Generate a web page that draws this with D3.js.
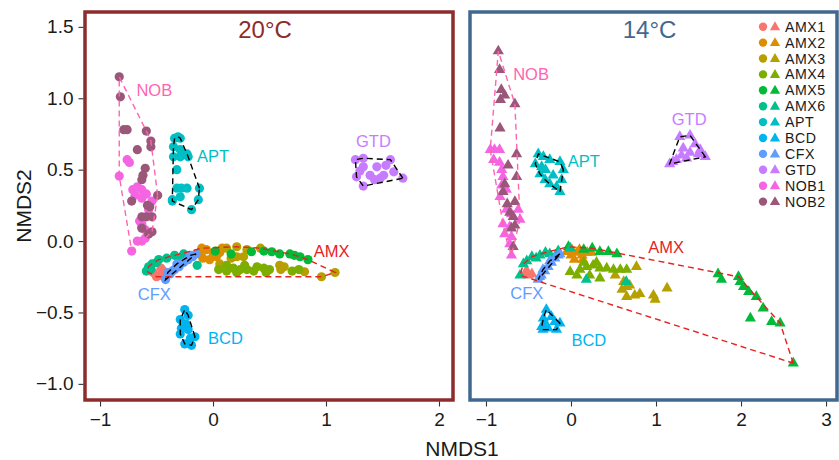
<!DOCTYPE html>
<html>
<head>
<meta charset="utf-8">
<script src="https://cdn.jsdelivr.net/npm/d3@7"></script>
<style>
  html, body { margin: 0; padding: 0; background: #fff; }
  svg { display: block; font-family: "Liberation Sans", Arial, sans-serif; }
</style>
</head>
<body>
<svg id="chart" width="839" height="460"></svg>
<script>
// ---------------- DATA ----------------
const groups = ["AMX1","AMX2","AMX3","AMX4","AMX5","AMX6","APT","BCD","CFX","GTD","NOB1","NOB2"];
const colors = ["#F8766D","#DE8C00","#B79F00","#7CAE00","#00BA38","#00C08B","#00BFC4","#00B4F0","#619CFF","#C77CFF","#F564E3","#9B5779"];
const panelTitles = ["20°C", "14°C"];
const xTicks20 = [-1, 0, 1, 2];
const xTicks14 = [-1, 0, 1, 2, 3];
const yTicks = [-1.0, -0.5, 0.0, 0.5, 1.0, 1.5];

// 20°C panel (circles)
const AMX1_20 = [[-0.53,-0.22],[-0.47,-0.24],[-0.44,-0.21],[-0.41,-0.22],[-0.50,-0.25],[-0.46,-0.19]];
const AMX2_20 = [[-0.12,-0.08],[-0.06,-0.06],[0.0,-0.08],[0.06,-0.08],[-0.09,-0.12],[0.03,-0.11],[-0.03,-0.13],[0.08,-0.05],[-0.10,-0.05]];
const AMX3_20 = [[0.12,-0.05],[0.21,-0.04],[0.30,-0.06],[0.42,-0.05],[0.21,-0.11],[0.27,-0.11],[0.06,-0.16],[0.59,-0.17],[0.63,-0.18],[0.60,-0.20],[0.81,-0.215],[0.96,-0.25],[1.08,-0.22],[0.16,-0.12]];
const AMX4_20 = [[0.05,-0.20],[0.12,-0.21],[0.18,-0.19],[0.24,-0.20],[0.30,-0.20],[0.39,-0.18],[0.45,-0.19],[0.50,-0.20],[0.12,-0.17],[0.28,-0.17],[0.47,-0.22],[0.21,-0.22],[0.36,-0.21],[0.70,-0.21],[0.76,-0.20]];
const AMX5_20 = [[0.34,-0.075],[0.52,-0.075],[0.59,-0.09],[0.68,-0.09],[0.77,-0.11],[0.84,-0.13],[0.16,-0.09],[0.02,-0.07],[0.45,-0.07],[0.72,-0.10]];
const AMX6_20 = [[-0.59,-0.21],[-0.54,-0.16],[-0.48,-0.13],[-0.41,-0.12],[-0.34,-0.10],[-0.26,-0.09],[-0.14,-0.17],[-0.57,-0.18],[-0.50,-0.15],[-0.30,-0.12],[-0.55,-0.20]];
const APT_20 = [[-0.34,0.72],[-0.29,0.72],[-0.31,0.73],[-0.35,0.66],[-0.29,0.64],[-0.23,0.61],[-0.35,0.59],[-0.29,0.59],[-0.22,0.59],[-0.32,0.50],[-0.32,0.37],[-0.28,0.37],[-0.23,0.37],[-0.12,0.37],[-0.36,0.29],[-0.29,0.31],[-0.13,0.29],[-0.19,0.22],[-0.36,0.28]];
const BCD_20 = [[-0.25,-0.48],[-0.22,-0.52],[-0.29,-0.55],[-0.28,-0.61],[-0.22,-0.62],[-0.16,-0.67],[-0.25,-0.72],[-0.19,-0.73],[-0.29,-0.65],[-0.24,-0.58],[-0.20,-0.68]];
const CFX_20 = [[-0.42,-0.27],[-0.38,-0.23],[-0.34,-0.20],[-0.30,-0.18],[-0.26,-0.15],[-0.22,-0.13],[-0.18,-0.11],[-0.15,-0.09],[-0.40,-0.22],[-0.32,-0.16],[-0.20,-0.10],[-0.36,-0.21]];
const GTD_20 = [[1.26,0.57],[1.33,0.58],[1.57,0.57],[1.27,0.45],[1.33,0.385],[1.39,0.46],[1.45,0.52],[1.51,0.46],[1.60,0.485],[1.68,0.44],[1.33,0.52],[1.43,0.43],[1.30,0.49],[1.48,0.44],[1.53,0.53]];
const NOB1_20 = [[-0.83,0.455],[-0.76,0.57],[-0.74,0.55],[-0.71,0.36],[-0.67,0.38],[-0.63,0.36],[-0.59,0.33],[-0.69,0.32],[-0.63,0.30],[-0.54,0.28],[-0.57,0.22],[-0.63,0.12],[-0.63,0.10],[-0.67,0.0],[-0.63,0.0],[-0.60,0.02],[-0.72,-0.07],[-0.65,0.14],[-0.60,0.08]];
const NOB2_20 = [[-0.83,1.15],[-0.82,1.01],[-0.79,0.78],[-0.76,0.78],[-0.59,0.77],[-0.55,0.70],[-0.67,0.64],[-0.55,0.66],[-0.60,0.51],[-0.62,0.46],[-0.63,0.43],[-0.49,0.32],[-0.72,0.28],[-0.56,0.24],[-0.63,0.17],[-0.59,0.17],[-0.54,0.17],[-0.63,0.09],[-0.54,0.065],[-0.57,0.05],[-0.58,0.25]];

// 14°C panel (triangles)
const AMX1_14 = [[-0.54,-0.225],[-0.46,-0.23],[-0.50,-0.24],[-0.52,-0.21]];
const AMX2_14 = [[-0.05,-0.075],[0.01,-0.06],[0.07,-0.08],[0.13,-0.10],[0.19,-0.08],[0.24,-0.08],[0.04,-0.13],[0.14,-0.13],[0.0,-0.10],[0.10,-0.06]];
const AMX3_14 = [[0.62,-0.285],[0.655,-0.32],[0.60,-0.34],[0.69,-0.31],[0.75,-0.38],[0.81,-0.37],[0.655,-0.39],[0.97,-0.38],[0.99,-0.41],[1.13,-0.33],[0.77,-0.18],[0.52,-0.24]];
const AMX4_14 = [[-0.01,-0.215],[0.105,-0.20],[0.185,-0.18],[0.26,-0.17],[0.34,-0.19],[0.42,-0.19],[0.50,-0.20],[0.58,-0.20],[0.655,-0.20],[0.34,-0.26],[0.07,-0.24],[0.22,-0.24],[0.30,-0.15],[0.15,-0.15]];
const AMX5_14 = [[-0.03,-0.04],[0.15,-0.06],[0.34,-0.075],[0.44,-0.075],[0.54,-0.09],[1.73,-0.23],[1.77,-0.27],[1.97,-0.25],[1.99,-0.285],[2.03,-0.32],[2.09,-0.355],[2.18,-0.39],[2.26,-0.47],[2.11,-0.54],[2.36,-0.565],[2.46,-0.575],[2.615,-0.855],[0.25,-0.05]];
const AMX6_14 = [[-0.60,-0.24],[-0.56,-0.16],[-0.46,-0.11],[-0.365,-0.10],[-0.25,-0.09],[-0.01,-0.05],[0.18,-0.27],[0.65,-0.285],[-0.52,-0.14],[-0.41,-0.12],[-0.15,-0.07],[-0.30,-0.08]];
const APT_14 = [[-0.385,0.61],[-0.325,0.59],[-0.42,0.54],[-0.345,0.52],[-0.25,0.57],[-0.13,0.555],[-0.09,0.50],[-0.365,0.47],[-0.305,0.43],[-0.25,0.40],[-0.17,0.38],[-0.13,0.345],[-0.11,0.43],[-0.21,0.46],[-0.30,0.50]];
const BCD_14 = [[-0.29,-0.48],[-0.325,-0.54],[-0.23,-0.53],[-0.345,-0.60],[-0.27,-0.61],[-0.19,-0.565],[-0.13,-0.575],[-0.17,-0.62],[-0.30,-0.58],[-0.33,-0.62]];
const CFX_14 = [[-0.385,-0.27],[-0.35,-0.24],[-0.31,-0.21],[-0.27,-0.18],[-0.23,-0.15],[-0.19,-0.12],[-0.15,-0.10],[-0.13,-0.09],[-0.33,-0.20],[-0.25,-0.14],[-0.37,-0.25]];
const GTD_14 = [[1.28,0.73],[1.40,0.74],[1.46,0.68],[1.52,0.64],[1.58,0.59],[1.32,0.65],[1.20,0.555],[1.16,0.54],[1.24,0.57],[1.36,0.58],[1.50,0.61],[1.40,0.62],[1.30,0.60]];
const NOB1_14 = [[-0.95,0.64],[-0.90,0.64],[-0.84,0.64],[-0.91,0.57],[-0.84,0.55],[-0.815,0.50],[-0.80,0.45],[-0.815,0.39],[-0.76,0.36],[-0.835,0.31],[-0.76,0.22],[-0.70,0.19],[-0.62,0.22],[-0.60,0.15],[-0.80,0.12],[-0.72,0.10],[-0.78,0.05],[-0.70,0.03],[-0.72,-0.02],[-0.70,-0.10]];
const NOB2_14 = [[-0.855,1.33],[-0.84,1.20],[-0.82,1.06],[-0.78,1.02],[-0.83,0.99],[-0.66,0.96],[-0.835,0.79],[-0.64,0.61],[-0.74,0.53],[-0.64,0.45],[-0.78,0.40],[-0.80,0.345],[-0.66,0.275],[-0.75,0.26],[-0.68,0.17],[-0.66,0.11],[-0.70,0.09],[-0.68,-0.04],[-0.72,0.20]];

// hull clusters and their label positions [x, y]
const clusterNames = ["AMX","APT","BCD","CFX","GTD","NOB"];
const clusterMembers = [["AMX1","AMX2","AMX3","AMX4","AMX5","AMX6"],["APT"],["BCD"],["CFX"],["GTD"],["NOB1","NOB2"]];
const clusterColors = ["#E8221E","#00BFC4","#00B4F0","#619CFF","#C77CFF","#FF64B0"];
const hullColors = ["#E8221E","#000000","#000000","#000000","#000000","#FF64B0"];
const labels20 = [[1.05,-0.07],[0.0,0.595],[0.11,-0.68],[-0.52,-0.37],[1.42,0.70],[-0.52,1.06]];
const labels14 = [[1.12,-0.04],[0.15,0.56],[0.21,-0.69],[-0.52,-0.365],[1.39,0.855],[-0.47,1.17]];

const data20 = [AMX1_20,AMX2_20,AMX3_20,AMX4_20,AMX5_20,AMX6_20,APT_20,BCD_20,CFX_20,GTD_20,NOB1_20,NOB2_20];
const data14 = [AMX1_14,AMX2_14,AMX3_14,AMX4_14,AMX5_14,AMX6_14,APT_14,BCD_14,CFX_14,GTD_14,NOB1_14,NOB2_14];

// ---------------- LAYOUT ----------------
const svg = d3.select("#chart");
const FONT = "'Liberation Sans', Arial, sans-serif";
const yTop = 12, yBot = 400;
const y = d3.scaleLinear().domain([-1.113, 1.604]).range([yBot, yTop]);

const panels = [
  { x: d3.scaleLinear().domain([-1.133, 2.124]).range([85, 453]), data: data20, labels: labels20,
    ticks: xTicks20, frame: "#8E2C2C", shape: "circle", title: panelTitles[0] },
  { x: d3.scaleLinear().domain([-1.188, 3.129]).range([470, 837]), data: data14, labels: labels14,
    ticks: xTicks14, frame: "#416890", shape: "triangle", title: panelTitles[1] }
];

const triPath = d3.symbol().type(d3.symbolTriangle).size(54)();
const triLeg = d3.symbol().type(d3.symbolTriangle).size(46)();

panels.forEach((p, pi) => {
  const g = svg.append("g");
  const [x0, x1] = p.x.range();

  // points
  p.data.forEach((pts, gi) => {
    const sel = g.append("g").selectAll("*").data(pts);
    if (p.shape === "circle") {
      sel.enter().append("circle")
        .attr("cx", d => p.x(d[0])).attr("cy", d => y(d[1]))
        .attr("r", 4.6).attr("fill", colors[gi]);
    } else {
      sel.enter().append("path")
        .attr("d", triPath)
        .attr("transform", d => `translate(${p.x(d[0])},${y(d[1])})`)
        .attr("fill", colors[gi]);
    }
  });

  // hulls
  clusterNames.forEach((cn, ci) => {
    const pts = [];
    clusterMembers[ci].forEach(m => {
      p.data[groups.indexOf(m)].forEach(d => pts.push([p.x(d[0]), y(d[1])]));
    });
    const hull = d3.polygonHull(pts);
    g.append("path")
      .attr("d", "M" + hull.join("L") + "Z")
      .attr("fill", "none")
      .attr("stroke", hullColors[ci])
      .attr("stroke-width", 1.4)
      .attr("stroke-dasharray", "6,4");
  });

  // cluster labels
  clusterNames.forEach((cn, ci) => {
    g.append("text")
      .attr("x", p.x(p.labels[ci][0])).attr("y", y(p.labels[ci][1]))
      .attr("text-anchor", "middle").attr("dominant-baseline", "central")
      .attr("font-size", 16.5).attr("fill", clusterColors[ci])
      .attr("font-family", FONT)
      .text(cn);
  });

  // frame
  g.append("rect")
    .attr("x", x0).attr("y", yTop)
    .attr("width", x1 - x0).attr("height", yBot - yTop)
    .attr("fill", "none").attr("stroke", p.frame).attr("stroke-width", 3.5);

  // title
  g.append("text")
    .attr("x", (x0 + x1) / 2 - 4).attr("y", 38)
    .attr("text-anchor", "middle").attr("font-size", 24)
    .attr("fill", p.frame).attr("font-family", FONT)
    .text(p.title);

  // x axis
  const xa = g.append("g").attr("transform", `translate(0,${yBot + 1.5})`)
    .call(d3.axisBottom(p.x).tickValues(p.ticks).tickFormat(d3.format("d")).tickSize(5).tickPadding(6));
  xa.select(".domain").remove();
  xa.selectAll("line").attr("stroke", "#333").attr("stroke-width", 1.1);
  xa.selectAll("text").attr("font-size", 19).attr("fill", "#1a1a1a").attr("font-family", FONT);
});

// y axis (left only)
const ya = svg.append("g").attr("transform", `translate(${85 - 1.5},0)`)
  .call(d3.axisLeft(y).tickValues(yTicks).tickFormat(d3.format(".1f")).tickSize(5).tickPadding(5));
ya.select(".domain").remove();
ya.selectAll("line").attr("stroke", "#333").attr("stroke-width", 1.1);
ya.selectAll("text").attr("font-size", 19).attr("fill", "#1a1a1a").attr("font-family", FONT);

// axis titles
svg.append("text").attr("x", 462).attr("y", 456)
  .attr("text-anchor", "middle").attr("font-size", 21).attr("fill", "#1a1a1a")
  .attr("font-family", FONT).text("NMDS1");
svg.append("text")
  .attr("transform", `translate(31,${(yTop + yBot) / 2}) rotate(-90)`)
  .attr("text-anchor", "middle").attr("font-size", 21).attr("fill", "#1a1a1a")
  .attr("font-family", FONT).text("NMDS2");

// legend
const leg = svg.append("g");
groups.forEach((gname, i) => {
  const yy = 26.7 + i * 15.9;
  leg.append("circle").attr("cx", 763).attr("cy", yy).attr("r", 4.2).attr("fill", colors[i]);
  leg.append("path").attr("d", triLeg).attr("transform", `translate(775,${yy + 0.5})`).attr("fill", colors[i]);
  leg.append("text").attr("x", 785).attr("y", yy).attr("dominant-baseline", "central")
    .attr("font-size", 14.2).attr("letter-spacing", 0.5).attr("fill", "#1a1a1a").attr("font-family", FONT).text(gname);
});
</script>
</body>
</html>
